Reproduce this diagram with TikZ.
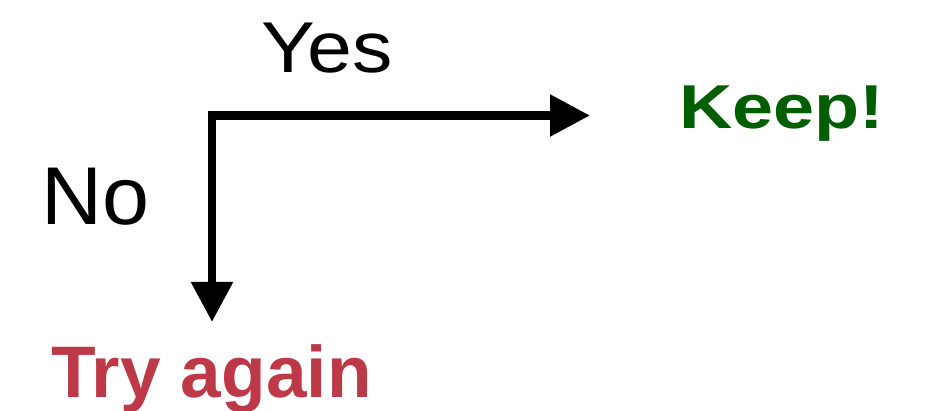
\documentclass[tikz,border=0pt]{standalone}
\usepackage{fontspec}
\setmainfont{Liberation Sans}
\usetikzlibrary{arrows.meta}
\definecolor{keepgreen}{RGB}{0,94,0}
\definecolor{retryred}{RGB}{190,57,71}
\begin{document}
\begin{tikzpicture}[x=1pt,y=-1pt,
  flow/.style={line width=8.5pt,line join=miter,
    {Triangle[length=40pt,width=40pt]}-{Triangle[length=40pt,width=40pt]}},
  answer/.style={anchor=base west,inner sep=0pt,transform shape},
  outcome/.style={anchor=base west,inner sep=0pt,font=\bfseries\fontsize{73}{80}\selectfont}]
  \useasboundingbox (0,0) rectangle (936,411);
  % decision corner with its two branches, drawn as one bent arrow
  \coordinate (corner) at (212,115.5);
  \coordinate (yesend) at (590,115.5);
  \coordinate (noend) at (212,322);
  \draw[flow] (noend) -- (corner) -- (yesend);
  % branch labels
  \node[answer,font=\fontsize{72}{80}\selectfont,xscale=1.12] (yes) at (261,73) {Yes};
  \node[answer,font=\fontsize{82}{90}\selectfont,xscale=1.03] (no) at (41,225) {No};
  % outcomes
  \node[outcome,text=keepgreen,font=\bfseries\fontsize{62}{70}\selectfont,xscale=1.19,transform shape] (keep) at (679,129) {Keep!};
  \node[outcome,text=retryred] (again) at (51,397) {Try again};
\end{tikzpicture}
\end{document}
